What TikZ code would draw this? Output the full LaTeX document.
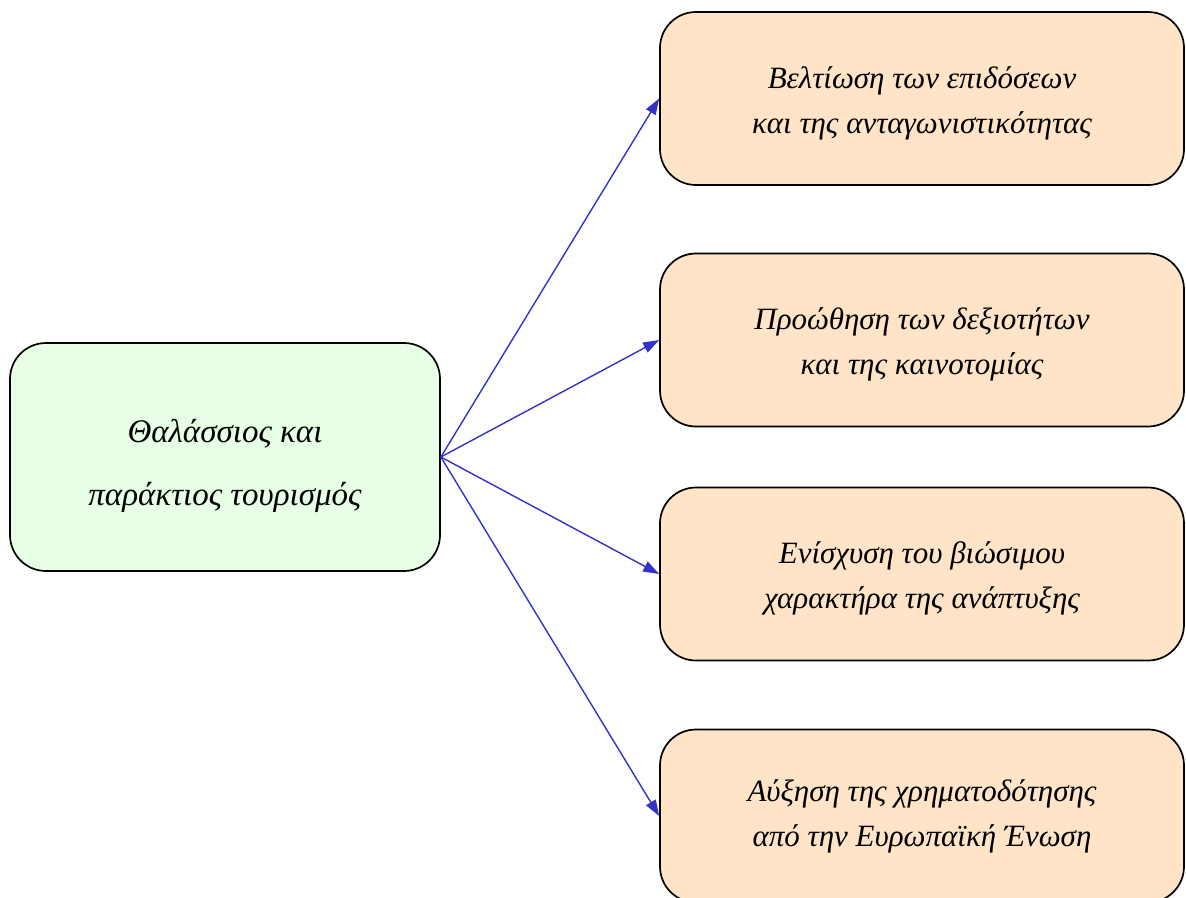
\documentclass[tikz,border=0pt]{standalone}
\usepackage{fontspec}
\setmainfont{Liberation Serif}
\usetikzlibrary{arrows.meta}
\definecolor{leftfill}{RGB}{230,255,230}
\definecolor{rightfill}{RGB}{255,228,200}
\definecolor{arrowblue}{RGB}{51,51,204}
\begin{document}
\begin{tikzpicture}[x=1pt,y=-1pt,
 box/.style={draw=black, line width=1.7pt, rounded corners=36pt, inner sep=0pt},
 leftbox/.style={box, fill=leftfill, minimum width=430pt, minimum height=228pt},
 rightbox/.style={box, fill=rightfill, minimum width=524pt, minimum height=173pt},
 lefttext/.style={align=center, inner sep=0pt, font=\fontsize{33}{63}\selectfont\itshape},
 righttext/.style={align=center, inner sep=0pt, font=\fontsize{31}{45}\selectfont\itshape},
 link/.style={draw=arrowblue, line width=1.4pt, -{Triangle[length=16pt,width=11pt]}}]
\useasboundingbox (0,0) rectangle (1186,897);
\node[leftbox] (src) at (225,457) {};
\node[lefttext] (srctext) at (225,466) {Θαλάσσιος και\\παράκτιος τουρισμός};
\node[rightbox] (t1) at (922,98.5) {};
\node[righttext] (t1text) at (922,103) {Βελτίωση των επιδόσεων\\και της ανταγωνιστικότητας};
\node[rightbox] (t2) at (922,340) {};
\node[righttext] (t2text) at (922,344.5) {Προώθηση των δεξιοτήτων\\και της καινοτομίας};
\node[rightbox] (t3) at (922,574) {};
\node[righttext] (t3text) at (922,578.5) {Ενίσχυση του βιώσιμου\\χαρακτήρα της ανάπτυξης};
\node[rightbox] (t4) at (922,816) {};
\node[righttext] (t4text) at (922,816.5) {Αύξηση της χρηματοδότησης\\από την Ευρωπαϊκή Ένωση};
\draw[link] (src.east) -- (t1.west);
\draw[link] (src.east) -- (t2.west);
\draw[link] (src.east) -- (t3.west);
\draw[link] (src.east) -- (t4.west);
\end{tikzpicture}
\end{document}
